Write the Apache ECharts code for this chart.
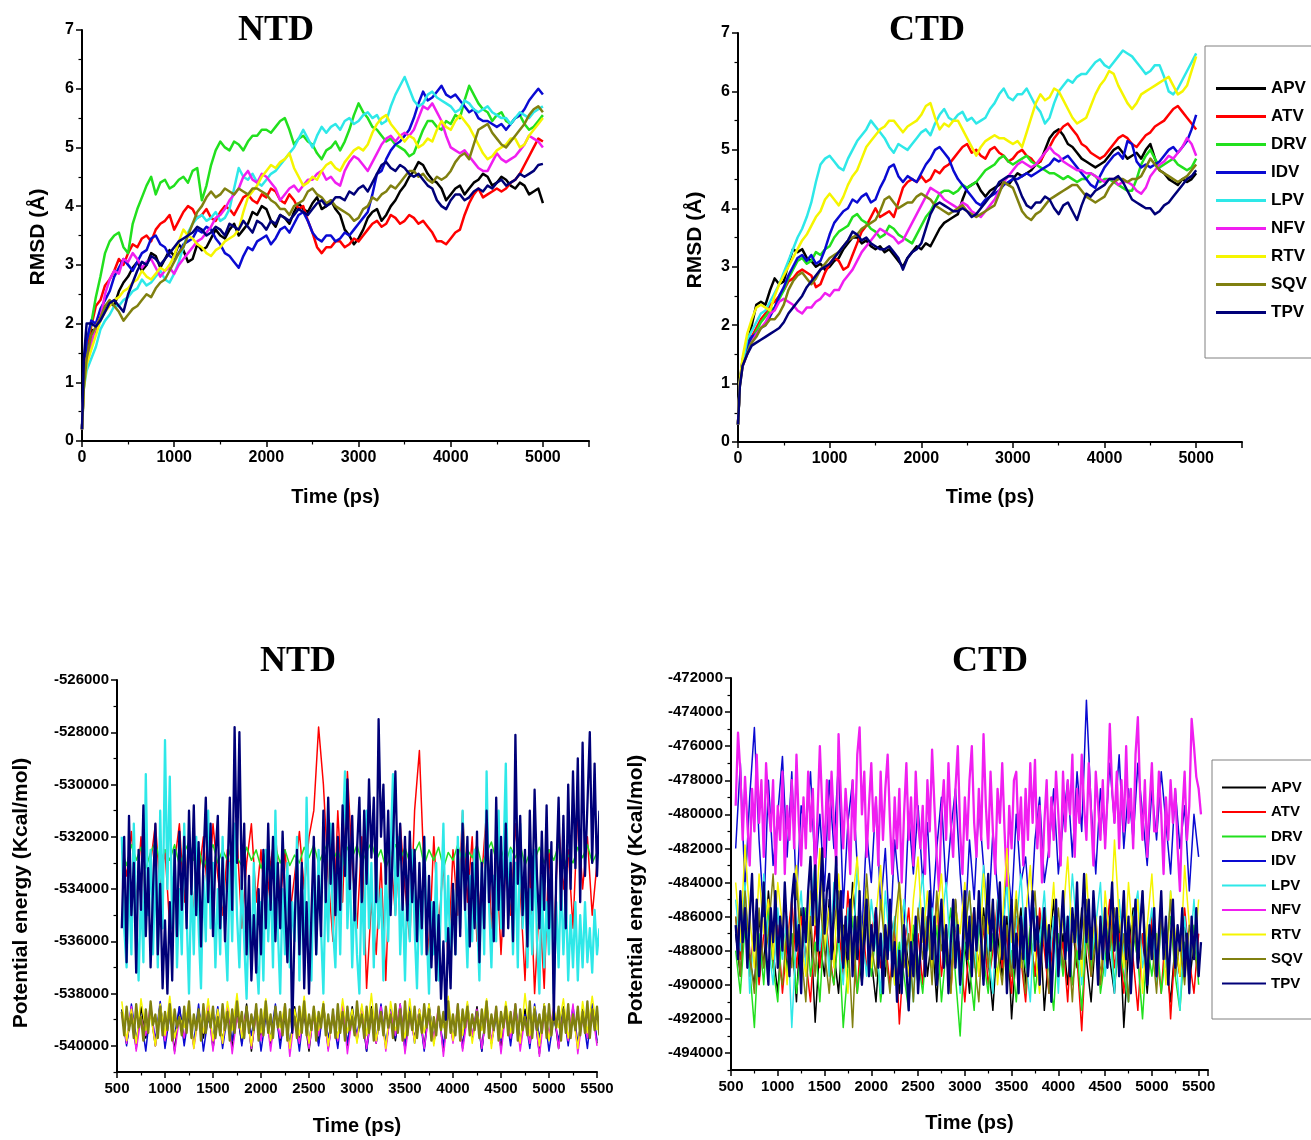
<!DOCTYPE html>
<html>
<head>
<meta charset="utf-8">
<title>RMSD and potential energy of NTD / CTD complexes</title>
<script src="https://cdn.jsdelivr.net/npm/echarts@6/dist/echarts.min.js"></script>
<style>
  html, body { margin: 0; padding: 0; background: #ffffff; }
  #chart { width: 1311px; height: 1140px; }
</style>
</head>
<body>
<div id="chart"></div>
<script>
// ---------- inhibitor names ----------
const drugs = ['APV', 'ATV', 'DRV', 'IDV', 'LPV', 'NFV', 'RTV', 'SQV', 'TPV'];

// ---------- energy-axis tick values (kcal/mol) ----------
const ntdEnergyTicks = [-540000, -538000, -536000, -534000, -532000, -530000, -528000, -526000];
const ntdEnergyMinorTicks = [-541000, -539000, -537000, -535000, -533000, -531000, -529000, -527000];
const ctdEnergyTicks = [-494000, -492000, -490000, -488000, -486000, -484000, -482000, -480000,
  -478000, -476000, -474000, -472000];
const ctdEnergyMinorTicks = [-495000, -493000, -491000, -489000, -487000, -485000, -483000, -481000,
  -479000, -477000, -475000, -473000];

// ---------- RMSD sample times (ps) ----------
const rmsdTime = [0, 20,
  50, 100, 150, 200, 250, 300, 350, 400, 450, 500,
  550, 600, 650, 700, 750, 800, 850, 900, 950, 1000,
  1050, 1100, 1150, 1200, 1250, 1300, 1350, 1400, 1450, 1500,
  1550, 1600, 1650, 1700, 1750, 1800, 1850, 1900, 1950, 2000,
  2050, 2100, 2150, 2200, 2250, 2300, 2350, 2400, 2450, 2500,
  2550, 2600, 2650, 2700, 2750, 2800, 2850, 2900, 2950, 3000,
  3050, 3100, 3150, 3200, 3250, 3300, 3350, 3400, 3450, 3500,
  3550, 3600, 3650, 3700, 3750, 3800, 3850, 3900, 3950, 4000,
  4050, 4100, 4150, 4200, 4250, 4300, 4350, 4400, 4450, 4500,
  4550, 4600, 4650, 4700, 4750, 4800, 4850, 4900, 4950, 5000];

// ---------- NTD RMSD (Å) ----------
const ntdRmsdAPV = [0.2, 1.0,
  1.5, 1.9, 1.85, 2.1, 2.3, 2.35, 2.3, 2.55, 2.7, 2.8,
  2.95, 3.05, 2.9, 3.0, 3.2, 3.15, 2.95, 3.1, 3.25, 3.15,
  3.35, 3.25, 3.05, 3.1, 3.35, 3.25, 3.3, 3.45, 3.6, 3.5,
  3.45, 3.6, 3.7, 3.5, 3.6, 3.7, 3.9, 3.85, 4.0, 3.95,
  3.75, 3.65, 3.85, 3.8, 3.7, 3.9, 4.05, 3.95, 3.9, 4.05,
  4.15, 3.95, 4.0, 4.1, 3.95, 3.85, 3.6, 3.5, 3.35, 3.45,
  3.6, 3.8, 3.9, 3.95, 3.75, 3.85, 4.0, 4.1, 4.25, 4.35,
  4.5, 4.6, 4.75, 4.7, 4.55, 4.45, 4.4, 4.3, 4.1, 4.2,
  4.3, 4.35, 4.2, 4.3, 4.4, 4.45, 4.55, 4.5, 4.35, 4.4,
  4.5, 4.45, 4.35, 4.3, 4.4, 4.35, 4.2, 4.25, 4.3, 4.05];
const ntdRmsdATV = [0.2, 1.0,
  1.6, 1.95, 2.3, 2.4, 2.65, 2.75, 2.9, 3.1, 3.0, 3.2,
  3.35, 3.3, 3.45, 3.5, 3.4, 3.6, 3.7, 3.75, 3.85, 3.6,
  3.75, 3.9, 4.0, 3.95, 3.8, 3.85, 3.95, 3.8, 3.75, 3.9,
  4.0, 3.95, 3.85, 4.0, 4.15, 4.2, 4.1, 4.05, 4.2, 4.15,
  4.3, 4.25, 4.1, 4.05, 4.2, 4.1, 3.95, 4.0, 3.75, 3.55,
  3.3, 3.2, 3.3, 3.3, 3.4, 3.4, 3.3, 3.35, 3.45, 3.4,
  3.5, 3.6, 3.7, 3.75, 3.65, 3.7, 3.85, 3.8, 3.7, 3.75,
  3.85, 3.8, 3.7, 3.75, 3.65, 3.55, 3.4, 3.4, 3.35, 3.45,
  3.55, 3.6, 3.85, 4.05, 4.2, 4.3, 4.15, 4.2, 4.25, 4.3,
  4.25, 4.3, 4.4, 4.45, 4.55, 4.7, 4.85, 5.0, 5.15, 5.1];
const ntdRmsdDRV = [0.2, 1.1,
  1.7, 2.0, 2.45, 2.8, 3.2, 3.4, 3.5, 3.55, 3.3, 3.2,
  3.7, 3.95, 4.15, 4.35, 4.5, 4.2, 4.4, 4.45, 4.3, 4.35,
  4.45, 4.5, 4.4, 4.6, 4.65, 4.1, 4.35, 4.7, 4.95, 5.1,
  5.0, 4.95, 5.1, 5.05, 4.95, 5.1, 5.2, 5.2, 5.3, 5.3,
  5.25, 5.35, 5.45, 5.5, 5.3, 5.05, 5.15, 5.2, 5.1, 5.05,
  4.9, 4.8, 4.95, 5.0, 5.1, 4.95, 5.1, 5.3, 5.55, 5.75,
  5.6, 5.5, 5.35, 5.3, 5.2, 5.1, 5.15, 5.05, 5.0, 4.95,
  4.85, 4.9, 5.1, 5.3, 5.45, 5.45, 5.35, 5.3, 5.45, 5.4,
  5.55, 5.5, 5.8, 6.05, 5.9, 5.75, 5.65, 5.6, 5.45, 5.55,
  5.6, 5.45, 5.4, 5.5, 5.55, 5.4, 5.3, 5.35, 5.45, 5.55];
const ntdRmsdIDV = [0.2, 1.1,
  1.7, 2.05, 2.0, 2.25, 2.4, 2.55, 2.8, 2.95, 3.1, 3.0,
  2.9, 3.05, 3.2, 3.25, 3.45, 3.5, 3.35, 3.3, 3.15, 3.1,
  3.2, 3.35, 3.4, 3.45, 3.6, 3.55, 3.65, 3.6, 3.45, 3.35,
  3.2, 3.15, 3.05, 2.95, 3.15, 3.3, 3.25, 3.4, 3.45, 3.5,
  3.35, 3.45, 3.6, 3.65, 3.55, 3.7, 3.85, 3.9, 3.75, 3.55,
  3.45, 3.4, 3.5, 3.5, 3.4, 3.45, 3.55, 3.5, 3.6, 3.7,
  3.8, 3.9, 4.2, 4.55, 4.6, 4.8, 4.95, 5.05, 5.1, 5.2,
  5.3, 5.5, 5.75, 5.95, 5.8, 5.85, 5.95, 6.05, 5.9, 5.85,
  5.9, 5.8, 5.7, 5.6, 5.65, 5.5, 5.45, 5.45, 5.4, 5.35,
  5.4, 5.3, 5.4, 5.5, 5.55, 5.65, 5.8, 5.9, 6.0, 5.9];
const ntdRmsdLPV = [0.2, 0.9,
  1.2, 1.4, 1.6, 1.9, 2.05, 2.15, 2.3, 2.3, 2.4, 2.45,
  2.55, 2.6, 2.75, 2.65, 2.7, 2.8, 2.9, 2.75, 2.7, 2.85,
  3.05, 3.3, 3.55, 3.7, 3.8, 3.85, 3.75, 3.8, 3.9, 3.75,
  3.8, 3.95, 4.3, 4.65, 4.5, 4.45, 4.55, 4.4, 4.35, 4.45,
  4.55, 4.6, 4.7, 4.8, 4.9, 5.0, 5.15, 5.3, 5.15, 5.0,
  5.2, 5.35, 5.25, 5.35, 5.4, 5.3, 5.45, 5.5, 5.4, 5.45,
  5.55, 5.6, 5.5, 5.55, 5.4, 5.45, 5.7, 5.9, 6.05, 6.2,
  6.0, 5.8, 5.7, 5.75, 5.9, 5.95, 5.85, 5.8, 5.75, 5.7,
  5.6, 5.65, 5.8, 5.75, 5.65, 5.6, 5.65, 5.7, 5.6, 5.55,
  5.5, 5.5, 5.4, 5.5, 5.6, 5.55, 5.5, 5.6, 5.65, 5.7];
const ntdRmsdNFV = [0.2, 1.0,
  1.4, 1.65, 1.95, 2.1, 2.5, 2.75, 2.9, 2.85, 3.1, 3.05,
  3.2, 3.1, 2.95, 3.05, 3.1, 2.95, 2.8, 2.9, 2.95, 2.85,
  3.0, 3.1, 3.2, 3.3, 3.4, 3.45, 3.55, 3.65, 3.8, 3.85,
  3.95, 4.1, 4.2, 4.3, 4.5, 4.6, 4.45, 4.4, 4.55, 4.5,
  4.4, 4.3, 4.1, 4.2, 4.3, 4.35, 4.25, 4.35, 4.45, 4.45,
  4.55, 4.6, 4.45, 4.5, 4.4, 4.35, 4.6, 4.75, 4.85, 4.8,
  4.7, 4.6, 4.75, 4.9, 5.05, 5.15, 5.2, 5.1, 5.2, 5.25,
  5.2, 5.3, 5.5, 5.7, 5.65, 5.75, 5.6, 5.45, 5.2, 5.0,
  4.95, 4.9, 4.95, 4.85, 4.75, 4.65, 4.6, 4.6, 4.75, 4.9,
  4.8, 4.75, 4.8, 4.85, 4.95, 5.05, 5.2, 5.15, 5.1, 5.0];
const ntdRmsdRTV = [0.2, 0.9,
  1.3, 1.55, 1.8, 2.05, 2.2, 2.3, 2.4, 2.45, 2.55, 2.6,
  2.7, 2.75, 2.9, 2.8, 2.75, 2.85, 2.95, 2.9, 3.0, 3.15,
  3.4, 3.6, 3.5, 3.45, 3.35, 3.3, 3.2, 3.15, 3.25, 3.3,
  3.4, 3.45, 3.5, 3.6, 3.9, 4.15, 4.25, 4.35, 4.5, 4.6,
  4.7, 4.65, 4.75, 4.8, 4.9, 4.65, 4.5, 4.35, 4.4, 4.5,
  4.45, 4.6, 4.7, 4.75, 4.65, 4.6, 4.75, 4.85, 4.95, 5.0,
  4.95, 5.05, 5.25, 5.4, 5.5, 5.55, 5.4, 5.3, 5.2, 5.1,
  5.2, 5.15, 5.0, 5.05, 5.15, 5.1, 5.3, 5.45, 5.35, 5.3,
  5.45, 5.55, 5.45, 5.35, 5.2, 5.05, 4.9, 4.8, 4.85, 4.95,
  5.0, 5.05, 5.15, 5.15, 5.0, 5.05, 5.2, 5.3, 5.4, 5.5];
const ntdRmsdSQV = [0.2, 0.9,
  1.4, 1.8, 1.95, 2.1, 2.3, 2.4, 2.3, 2.2, 2.05, 2.15,
  2.25, 2.3, 2.4, 2.5, 2.45, 2.6, 2.7, 2.75, 2.9, 3.05,
  3.2, 3.3, 3.5, 3.7, 3.9, 4.0, 4.15, 4.25, 4.15, 4.2,
  4.3, 4.25, 4.2, 4.3, 4.25, 4.2, 4.3, 4.3, 4.25, 4.2,
  4.1, 4.05, 3.95, 3.95, 3.85, 4.0, 4.05, 4.1, 4.25, 4.3,
  4.2, 4.15, 4.05, 4.1, 4.0, 3.95, 3.9, 3.85, 3.75, 3.8,
  3.95, 4.0, 4.15, 4.1, 4.2, 4.25, 4.35, 4.3, 4.4, 4.5,
  4.6, 4.6, 4.5, 4.55, 4.45, 4.4, 4.5, 4.45, 4.5, 4.6,
  4.75, 4.85, 4.9, 4.8, 5.05, 5.3, 5.35, 5.4, 5.25, 5.15,
  5.05, 5.0, 5.1, 5.2, 5.3, 5.4, 5.55, 5.65, 5.7, 5.6];
const ntdRmsdTPV = [0.2, 1.4,
  2.0, 2.0, 1.95, 2.05, 2.2, 2.35, 2.4, 2.3, 2.2, 2.5,
  2.7, 2.9, 3.05, 3.0, 3.15, 3.1, 3.0, 3.1, 3.2, 3.3,
  3.4, 3.45, 3.5, 3.55, 3.65, 3.6, 3.5, 3.55, 3.65, 3.6,
  3.5, 3.7, 3.65, 3.6, 3.75, 3.65, 3.55, 3.75, 3.7, 3.6,
  3.75, 3.7, 3.85, 3.8, 3.75, 3.85, 3.95, 3.9, 3.85, 3.95,
  4.05, 4.1, 4.0, 4.05, 4.15, 4.15, 4.1, 4.25, 4.2, 4.3,
  4.35, 4.25, 4.4, 4.55, 4.7, 4.75, 4.65, 4.6, 4.7, 4.65,
  4.55, 4.5, 4.55, 4.45, 4.35, 4.3, 4.1, 4.0, 3.95, 4.1,
  4.2, 4.2, 4.1, 4.15, 4.25, 4.3, 4.25, 4.35, 4.3, 4.4,
  4.45, 4.35, 4.4, 4.45, 4.55, 4.5, 4.55, 4.6, 4.7, 4.72];

// ---------- CTD RMSD (Å) ----------
const ctdRmsdAPV = [0.3, 1.0,
  1.4, 1.65, 2.0, 2.35, 2.4, 2.35, 2.6, 2.8, 2.7, 2.75,
  3.05, 3.3, 3.25, 3.3, 3.15, 3.1, 3.0, 3.05, 2.95, 3.0,
  3.1, 3.15, 3.3, 3.4, 3.5, 3.5, 3.4, 3.45, 3.35, 3.3,
  3.35, 3.25, 3.3, 3.2, 3.1, 3.0, 3.15, 3.25, 3.35, 3.3,
  3.4, 3.35, 3.5, 3.65, 3.75, 3.8, 3.85, 3.9, 4.15, 4.35,
  4.4, 4.45, 4.3, 4.2, 4.3, 4.35, 4.4, 4.45, 4.4, 4.5,
  4.6, 4.55, 4.6, 4.65, 4.75, 4.8, 5.0, 5.2, 5.3, 5.35,
  5.25, 5.1, 5.05, 4.95, 4.85, 4.8, 4.75, 4.7, 4.75, 4.8,
  4.9, 5.0, 5.05, 4.95, 4.85, 4.9, 4.95, 4.85, 5.0, 5.1,
  4.85, 4.65, 4.6, 4.5, 4.45, 4.4, 4.5, 4.45, 4.5, 4.6];
const ctdRmsdATV = [0.3, 1.0,
  1.35, 1.55, 1.8, 1.95, 2.1, 2.2, 2.35, 2.4, 2.5, 2.6,
  2.75, 2.8, 2.9, 2.95, 2.9, 2.85, 2.65, 2.7, 2.9, 3.05,
  3.15, 3.1, 2.95, 3.0, 3.2, 3.4, 3.6, 3.7, 3.85, 4.0,
  3.85, 3.9, 3.95, 3.85, 4.1, 4.35, 4.45, 4.5, 4.45, 4.55,
  4.45, 4.5, 4.65, 4.6, 4.7, 4.75, 4.85, 4.95, 5.05, 5.1,
  4.95, 5.0, 4.9, 4.85, 5.0, 5.05, 4.95, 4.9, 4.8, 4.85,
  4.95, 5.0, 4.9, 4.85, 4.75, 4.8, 4.95, 5.05, 5.2, 5.3,
  5.4, 5.45, 5.35, 5.25, 5.1, 5.05, 4.95, 4.9, 4.85, 4.9,
  5.0, 5.1, 5.2, 5.25, 5.2, 5.1, 5.05, 5.15, 5.25, 5.3,
  5.4, 5.45, 5.5, 5.6, 5.7, 5.75, 5.65, 5.55, 5.45, 5.35];
const ctdRmsdDRV = [0.3, 1.0,
  1.35, 1.55, 1.75, 1.9, 2.05, 2.15, 2.25, 2.3, 2.45, 2.6,
  2.8, 2.95, 3.1, 3.15, 3.05, 3.1, 3.25, 3.2, 3.3, 3.35,
  3.5, 3.6, 3.65, 3.7, 3.85, 3.9, 3.8, 3.75, 3.65, 3.6,
  3.5, 3.55, 3.7, 3.65, 3.55, 3.5, 3.45, 3.4, 3.55, 3.7,
  3.85, 3.95, 4.1, 4.25, 4.3, 4.3, 4.25, 4.3, 4.4, 4.35,
  4.4, 4.45, 4.55, 4.65, 4.7, 4.75, 4.85, 4.9, 4.8, 4.75,
  4.8, 4.85, 4.9, 4.8, 4.75, 4.7, 4.65, 4.6, 4.6, 4.55,
  4.5, 4.55, 4.5, 4.45, 4.5, 4.5, 4.6, 4.55, 4.45, 4.5,
  4.5, 4.45, 4.4, 4.35, 4.3, 4.3, 4.5, 4.75, 4.9, 5.0,
  4.85, 4.7, 4.75, 4.8, 4.85, 4.75, 4.7, 4.65, 4.7, 4.85];
const ctdRmsdIDV = [0.3, 1.05,
  1.4, 1.65, 1.8, 1.85, 1.95, 2.0, 2.15, 2.3, 2.5, 2.65,
  2.85, 3.0, 3.15, 3.2, 3.1, 3.2, 3.05, 3.1, 3.3, 3.55,
  3.75, 3.85, 3.95, 4.0, 4.15, 4.1, 4.2, 4.25, 4.1, 4.15,
  4.35, 4.5, 4.7, 4.75, 4.55, 4.45, 4.55, 4.5, 4.45, 4.6,
  4.75, 4.85, 5.0, 5.05, 4.95, 4.85, 4.65, 4.5, 4.4, 4.3,
  4.2, 4.1, 4.05, 4.15, 4.2, 4.25, 4.3, 4.4, 4.45, 4.5,
  4.5, 4.55, 4.6, 4.55, 4.6, 4.65, 4.7, 4.75, 4.85, 4.8,
  4.85, 4.9, 4.8, 4.7, 4.6, 4.5, 4.4, 4.35, 4.55, 4.7,
  4.8, 4.9, 4.95, 4.85, 5.15, 5.1, 4.8, 4.7, 4.75, 4.7,
  4.75, 4.8, 4.9, 5.0, 5.05, 4.95, 5.05, 5.15, 5.35, 5.6];
const ctdRmsdLPV = [0.3, 1.0,
  1.35, 1.75, 1.9, 2.05, 2.2, 2.25, 2.4, 2.55, 2.7, 2.9,
  3.1, 3.3, 3.5, 3.65, 3.85, 4.1, 4.45, 4.75, 4.85, 4.9,
  4.8, 4.7, 4.65, 4.85, 5.0, 5.15, 5.25, 5.35, 5.5, 5.4,
  5.3, 5.2, 5.05, 4.95, 5.1, 5.05, 5.0, 5.1, 5.2, 5.3,
  5.35, 5.25, 5.45, 5.6, 5.7, 5.55, 5.5, 5.6, 5.65, 5.5,
  5.55, 5.45, 5.5, 5.55, 5.7, 5.8, 5.95, 6.05, 5.9, 5.85,
  5.95, 5.95, 6.05, 5.9, 5.75, 5.65, 5.45, 5.55, 5.8, 6.0,
  6.1, 6.2, 6.15, 6.25, 6.3, 6.3, 6.4, 6.5, 6.55, 6.45,
  6.4, 6.5, 6.6, 6.7, 6.65, 6.6, 6.5, 6.4, 6.3, 6.35,
  6.45, 6.45, 6.25, 6.0, 5.95, 6.05, 6.2, 6.35, 6.5, 6.65];
const ctdRmsdNFV = [0.3, 1.0,
  1.3, 1.5, 1.7, 1.85, 1.95, 2.05, 2.2, 2.25, 2.4, 2.45,
  2.4, 2.35, 2.25, 2.2, 2.3, 2.3, 2.4, 2.45, 2.55, 2.5,
  2.6, 2.6, 2.75, 2.85, 2.95, 3.1, 3.25, 3.35, 3.45, 3.55,
  3.65, 3.6, 3.55, 3.5, 3.4, 3.45, 3.6, 3.75, 3.9, 4.05,
  4.2, 4.35, 4.3, 4.25, 4.15, 4.1, 4.05, 4.0, 4.1, 4.05,
  3.95, 3.9, 3.85, 3.95, 4.05, 4.15, 4.3, 4.45, 4.55, 4.65,
  4.75, 4.8, 4.75, 4.7, 4.75, 4.85, 4.95, 5.05, 4.95, 4.9,
  4.8, 4.75, 4.7, 4.65, 4.65, 4.6, 4.6, 4.55, 4.5, 4.45,
  4.5, 4.5, 4.4, 4.45, 4.45, 4.4, 4.3, 4.25, 4.35, 4.55,
  4.65, 4.75, 4.8, 4.9, 4.85, 4.95, 5.05, 5.2, 5.1, 4.9];
const ctdRmsdRTV = [0.3, 1.05,
  1.45, 1.85, 2.1, 2.3, 2.35, 2.3, 2.25, 2.5, 2.7, 2.85,
  3.0, 3.15, 3.3, 3.45, 3.55, 3.7, 3.85, 3.95, 4.15, 4.25,
  4.15, 4.05, 4.2, 4.4, 4.55, 4.65, 4.85, 5.05, 5.15, 5.25,
  5.35, 5.4, 5.5, 5.5, 5.4, 5.3, 5.4, 5.45, 5.5, 5.6,
  5.75, 5.8, 5.55, 5.35, 5.45, 5.4, 5.5, 5.5, 5.35, 5.2,
  5.05, 4.9, 5.05, 5.15, 5.2, 5.25, 5.2, 5.2, 5.15, 5.1,
  5.15, 5.05, 5.3, 5.55, 5.8, 5.95, 5.85, 5.9, 6.05, 6.0,
  5.85, 5.7, 5.55, 5.45, 5.5, 5.55, 5.75, 5.95, 6.1, 6.2,
  6.35, 6.3, 6.1, 5.95, 5.8, 5.7, 5.8, 5.95, 6.0, 6.05,
  6.1, 6.15, 6.2, 6.25, 6.1, 5.95, 6.0, 6.1, 6.35, 6.6];
const ctdRmsdSQV = [0.3, 0.95,
  1.3, 1.5, 1.7, 1.8, 1.95, 2.0, 2.1, 2.1, 2.2, 2.35,
  2.6, 2.75, 2.85, 2.9, 2.8, 2.7, 2.8, 2.95, 3.05, 3.15,
  3.2, 3.25, 3.35, 3.45, 3.5, 3.55, 3.65, 3.7, 3.75, 3.8,
  3.95, 4.15, 4.2, 4.1, 4.0, 4.05, 4.1, 4.1, 4.2, 4.25,
  4.2, 4.15, 4.05, 4.0, 3.95, 3.9, 3.95, 4.0, 4.05, 3.95,
  3.9, 3.85, 3.9, 3.95, 4.0, 4.05, 4.25, 4.45, 4.4, 4.35,
  4.15, 3.95, 3.85, 3.8, 3.9, 3.95, 4.05, 4.15, 4.2, 4.25,
  4.3, 4.35, 4.4, 4.4, 4.3, 4.2, 4.15, 4.1, 4.15, 4.2,
  4.35, 4.45, 4.5, 4.5, 4.45, 4.5, 4.5, 4.55, 4.7, 4.85,
  4.75, 4.65, 4.6, 4.55, 4.5, 4.45, 4.5, 4.55, 4.65, 4.75];
const ctdRmsdTPV = [0.3, 0.95,
  1.3, 1.5, 1.65, 1.7, 1.75, 1.8, 1.85, 1.9, 1.95, 2.05,
  2.2, 2.3, 2.4, 2.5, 2.65, 2.75, 2.85, 2.95, 3.0, 3.05,
  3.15, 3.25, 3.35, 3.45, 3.6, 3.55, 3.45, 3.5, 3.4, 3.35,
  3.3, 3.3, 3.35, 3.25, 3.15, 2.95, 3.15, 3.25, 3.3, 3.4,
  3.65, 3.9, 4.05, 4.1, 4.05, 4.0, 3.95, 3.95, 4.0, 3.95,
  3.85, 3.9, 4.0, 4.1, 4.2, 4.3, 4.45, 4.5, 4.55, 4.55,
  4.4, 4.2, 4.05, 4.0, 4.1, 4.1, 4.2, 4.15, 4.0, 3.9,
  4.05, 4.1, 3.95, 3.8, 4.05, 4.25, 4.2, 4.3, 4.35, 4.4,
  4.5, 4.5, 4.55, 4.45, 4.3, 4.15, 4.1, 4.05, 4.0, 4.0,
  3.9, 3.95, 4.05, 4.1, 4.2, 4.3, 4.4, 4.5, 4.55, 4.65];

// ---------- potential energy sample times (ps) ----------
// every 50 ps
const energyTime = [
  550, 600, 650, 700, 750, 800, 850, 900, 950, 1000,
  1050, 1100, 1150, 1200, 1250, 1300, 1350, 1400, 1450, 1500,
  1550, 1600, 1650, 1700, 1750, 1800, 1850, 1900, 1950, 2000,
  2050, 2100, 2150, 2200, 2250, 2300, 2350, 2400, 2450, 2500,
  2550, 2600, 2650, 2700, 2750, 2800, 2850, 2900, 2950, 3000,
  3050, 3100, 3150, 3200, 3250, 3300, 3350, 3400, 3450, 3500,
  3550, 3600, 3650, 3700, 3750, 3800, 3850, 3900, 3950, 4000,
  4050, 4100, 4150, 4200, 4250, 4300, 4350, 4400, 4450, 4500,
  4550, 4600, 4650, 4700, 4750, 4800, 4850, 4900, 4950, 5000,
  5050, 5100, 5150, 5200, 5250, 5300, 5350, 5400, 5450, 5500];
// every 25 ps
const energyTimeFine = [
  550, 575, 600, 625, 650, 675, 700, 725, 750, 775,
  800, 825, 850, 875, 900, 925, 950, 975, 1000, 1025,
  1050, 1075, 1100, 1125, 1150, 1175, 1200, 1225, 1250, 1275,
  1300, 1325, 1350, 1375, 1400, 1425, 1450, 1475, 1500, 1525,
  1550, 1575, 1600, 1625, 1650, 1675, 1700, 1725, 1750, 1775,
  1800, 1825, 1850, 1875, 1900, 1925, 1950, 1975, 2000, 2025,
  2050, 2075, 2100, 2125, 2150, 2175, 2200, 2225, 2250, 2275,
  2300, 2325, 2350, 2375, 2400, 2425, 2450, 2475, 2500, 2525,
  2550, 2575, 2600, 2625, 2650, 2675, 2700, 2725, 2750, 2775,
  2800, 2825, 2850, 2875, 2900, 2925, 2950, 2975, 3000, 3025,
  3050, 3075, 3100, 3125, 3150, 3175, 3200, 3225, 3250, 3275,
  3300, 3325, 3350, 3375, 3400, 3425, 3450, 3475, 3500, 3525,
  3550, 3575, 3600, 3625, 3650, 3675, 3700, 3725, 3750, 3775,
  3800, 3825, 3850, 3875, 3900, 3925, 3950, 3975, 4000, 4025,
  4050, 4075, 4100, 4125, 4150, 4175, 4200, 4225, 4250, 4275,
  4300, 4325, 4350, 4375, 4400, 4425, 4450, 4475, 4500, 4525,
  4550, 4575, 4600, 4625, 4650, 4675, 4700, 4725, 4750, 4775,
  4800, 4825, 4850, 4875, 4900, 4925, 4950, 4975, 5000, 5025,
  5050, 5075, 5100, 5125, 5150, 5175, 5200, 5225, 5250, 5275,
  5300, 5325, 5350, 5375, 5400, 5425, 5450, 5475, 5500, 5525];

// ---------- NTD potential energy (kcal/mol) ----------
const ntdEnergyAPV = [
  -538600, -539900, -538800, -540100, -538500, -539700, -538700, -540000, -538400, -539800,
  -538700, -540200, -538500, -539800, -538800, -540000, -538600, -539700, -538400, -540100,
  -538800, -539800, -538500, -540100, -538700, -539900, -538400, -540200, -538600, -539700,
  -538500, -540000, -538700, -539800, -538900, -540100, -538500, -539700, -538800, -540200,
  -538600, -539900, -538400, -540100, -538800, -539700, -538600, -540000, -538500, -539800,
  -538700, -540200, -538500, -539900, -538600, -540000, -538800, -539800, -538400, -540100,
  -538800, -539700, -538600, -540100, -538400, -539900, -538700, -540200, -538500, -539800,
  -538600, -540000, -538800, -539700, -538500, -540200, -538400, -539900, -538700, -540100,
  -538500, -539800, -538700, -540000, -538600, -539900, -538800, -540300, -538400, -539700,
  -538700, -540100, -538500, -539800, -538800, -540000, -538600, -539700, -538400, -539900];
const ntdEnergyATV = [
  -532500, -533500, -531800, -534500, -532000, -535000, -533000, -531500, -534000, -532500,
  -535500, -533000, -531500, -534500, -532000, -535000, -533500, -532000, -534500, -531500,
  -533500, -535000, -532500, -534000, -532000, -535500, -533000, -531500, -534500, -532500,
  -535000, -533000, -531800, -534500, -532500, -535000, -533500, -531800, -534000, -532000,
  -531000, -527800, -530000, -533500, -536000, -531000, -534500, -529500, -533000, -535500,
  -532000, -537800, -534500, -536500, -533000, -537500, -532500, -535000, -531500, -534000,
  -536000, -531000, -528700, -533500, -536500, -532000, -535500, -533000, -536800, -532500,
  -535000, -531000, -534500, -532000, -536000, -533500, -531000, -535500, -532500, -536500,
  -533000, -535000, -531500, -534000, -537500, -533000, -538000, -534500, -537800, -532500,
  -536000, -531500, -534000, -532500, -535500, -531000, -534000, -532000, -535000, -533000];
const ntdEnergyDRV = [
  -532500, -533100, -532300, -532900, -532400, -533200, -532600, -532200, -533000, -532500,
  -532900, -532300, -533100, -532600, -532200, -532900, -532400, -533200, -532700, -532300,
  -533000, -532500, -532900, -532200, -532800, -533100, -532400, -532900, -532500, -533200,
  -532600, -533300, -532400, -533000, -532500, -533100, -532700, -533000, -532400, -532800,
  -532300, -533000, -532600, -532200, -532900, -532500, -533100, -532400, -532800, -532300,
  -533000, -532600, -532200, -532900, -532500, -533200, -532700, -532300, -532900, -532400,
  -533000, -532600, -532200, -533100, -532500, -532900, -532400, -533200, -532600, -532900,
  -532300, -533000, -532500, -532800, -532300, -533100, -532600, -532200, -532900, -532500,
  -533000, -532400, -532800, -532300, -533100, -532600, -532900, -532400, -533000, -532500,
  -532900, -532300, -533200, -532700, -533000, -532400, -532800, -532300, -533000, -532600];
const ntdEnergyIDV = [
  -538700, -540000, -538400, -539700, -538900, -540200, -538500, -539800, -538300, -540100,
  -538800, -539600, -538500, -540000, -538700, -539900, -538400, -540200, -538900, -539700,
  -538500, -540100, -538800, -539800, -538400, -540000, -538700, -539600, -538500, -540200,
  -538900, -539700, -538400, -540100, -538600, -539900, -538800, -540200, -538500, -539800,
  -538700, -540000, -538500, -539700, -538900, -540100, -538400, -539900, -538700, -539600,
  -538500, -540200, -538800, -539800, -538400, -540000, -538600, -539700, -538900, -540100,
  -538400, -539900, -538700, -540200, -538500, -539800, -538800, -540000, -538600, -539700,
  -538800, -540100, -538400, -539700, -538700, -540200, -538500, -539900, -538900, -539800,
  -538600, -540000, -538500, -539800, -538800, -540100, -538400, -539700, -538700, -540200,
  -538900, -539800, -538600, -540000, -538500, -539900, -538700, -540100, -538400, -539800];
const ntdEnergyLPV = [
  -532000, -535500, -537000, -533500, -536500, -531500, -535000, -537500, -534000, -536800,
  -529600, -535000, -532500, -536500, -533000, -537000, -531000, -535500, -528300, -534000,
  -529700, -535500, -532500, -537000, -534000, -536500, -531500, -535000, -538000, -533500,
  -536500, -532000, -535500, -537800, -533500, -536000, -531000, -535500, -533000, -537000,
  -534000, -536500, -532000, -535500, -537500, -533000, -536000, -531500, -535000, -537000,
  -533500, -536000, -538200, -534500, -537000, -533000, -536500, -538000, -534500, -537500,
  -532500, -536000, -533500, -537000, -531000, -535500, -538000, -534000, -536500, -533000,
  -537000, -534500, -536000, -532000, -537500, -533500, -536500, -530500, -535000, -537500,
  -533000, -536500, -532500, -535500, -538000, -533500, -536000, -531500, -535500, -537000,
  -533000, -536500, -532000, -529500, -535500, -533000, -537000, -534000, -536500, -538000,
  -533500, -536500, -531000, -535500, -533000, -537000, -532500, -535500, -534000, -537500,
  -533000, -536000, -532500, -529600, -535000, -532000, -536500, -534000, -537500, -533500,
  -536000, -532500, -535500, -537800, -534000, -536500, -532000, -535500, -538000, -534500,
  -536500, -533000, -537500, -534500, -531500, -536000, -533500, -537000, -534000, -536500,
  -532000, -535500, -531000, -534500, -537000, -533500, -536000, -532500, -535000, -537500,
  -533000, -536500, -529500, -534500, -537000, -533500, -536000, -531000, -535500, -533000,
  -529200, -535000, -532500, -536500, -533000, -537000, -531500, -535500, -533500, -537000,
  -534000, -536500, -532500, -536000, -538000, -533500, -537000, -534500, -536500, -533000,
  -538000, -534500, -537000, -533500, -536500, -534000, -537500, -535000, -537000, -534500,
  -537500, -535000, -537000, -534500, -536800, -535500, -537200, -534800, -536500, -535500];
const ntdEnergyNFV = [
  -538800, -539900, -538500, -540200, -538900, -539600, -538400, -540000, -538700, -539800,
  -538600, -540300, -538900, -539700, -538500, -540100, -538800, -539500, -538400, -540200,
  -538700, -539900, -538500, -540300, -538900, -539600, -538600, -540100, -538800, -539800,
  -538500, -540200, -538700, -539700, -538400, -540400, -538900, -539900, -538600, -540100,
  -538800, -539600, -538500, -540200, -538700, -539800, -538400, -540300, -538900, -539700,
  -538600, -540100, -538800, -539900, -538500, -540200, -538700, -539600, -538400, -540300,
  -538900, -539800, -538600, -540100, -538800, -539700, -538500, -540400, -538700, -539900,
  -538400, -540200, -538900, -539600, -538600, -540100, -538800, -539800, -538500, -540300,
  -538700, -539700, -538400, -540200, -538900, -539900, -538600, -540400, -538800, -539600,
  -538500, -540100, -538700, -539800, -538400, -540300, -538900, -539700, -538600, -540000];
const ntdEnergyRTV = [
  -538300, -539800, -538600, -539900, -538200, -539400, -538800, -540000, -538400, -539600,
  -538100, -539700, -538900, -539300, -538300, -540100, -538700, -539500, -538200, -539800,
  -538600, -539900, -538300, -539400, -538000, -539700, -538800, -540000, -538500, -539500,
  -538200, -539800, -538700, -539300, -538400, -540100, -538600, -539600, -538100, -539900,
  -538500, -539400, -538300, -540000, -538800, -539700, -538200, -539500, -538600, -539900,
  -538400, -539600, -538000, -539800, -538700, -540100, -538300, -539400, -538900, -539700,
  -538200, -539900, -538600, -539500, -538400, -540000, -538700, -539300, -538100, -539800,
  -538500, -539600, -538300, -539900, -538800, -539400, -538200, -540100, -538600, -539700,
  -538300, -539500, -538700, -539900, -538000, -539600, -538500, -540000, -538400, -539800,
  -538600, -539300, -538200, -539700, -538800, -540100, -538300, -539500, -538100, -539400];
const ntdEnergySQV = [
  -538700, -539600, -538500, -539400, -538800, -539700, -538400, -539300, -538900, -539800,
  -538600, -539500, -538300, -539200, -538800, -539700, -538500, -539600, -538700, -539400,
  -538400, -539800, -538600, -539300, -538900, -539600, -538500, -539500, -538300, -539700,
  -538800, -539400, -538600, -539800, -538400, -539500, -538700, -539300, -538500, -539700,
  -538900, -539600, -538400, -539400, -538700, -539800, -538600, -539500, -538300, -539300,
  -538700, -539700, -538500, -539500, -538800, -539400, -538400, -539800, -538600, -539600,
  -538300, -539500, -538800, -539700, -538500, -539300, -538700, -539600, -538400, -539800,
  -538600, -539400, -538900, -539700, -538500, -539500, -538300, -539600, -538800, -539400,
  -538500, -539800, -538700, -539300, -538400, -539600, -538800, -539500, -538600, -539700,
  -538400, -539500, -538700, -539800, -538500, -539400, -538900, -539600, -538300, -539300,
  -538800, -539700, -538500, -539500, -538600, -539800, -538400, -539400, -538700, -539600,
  -538500, -539300, -538800, -539700, -538400, -539500, -538600, -539800, -538300, -539600,
  -538700, -539400, -538500, -539700, -538800, -539500, -538400, -539300, -538600, -539800,
  -538900, -539600, -538500, -539400, -538700, -539700, -538300, -539500, -538800, -539600,
  -538400, -539800, -538600, -539300, -538500, -539600, -538800, -539400, -538700, -539700,
  -538600, -539500, -538300, -539700, -538800, -539400, -538500, -539800, -538700, -539300,
  -538500, -539600, -538700, -539500, -538400, -539800, -538600, -539400, -538900, -539600,
  -538300, -539700, -538600, -539400, -538800, -539500, -538500, -539700, -538400, -539600,
  -538700, -539300, -538500, -539800, -538600, -539500, -538400, -539700, -538800, -539400,
  -538500, -539600, -538700, -539500, -538300, -539700, -538600, -539400, -538500, -539600];
const ntdEnergyTPV = [
  -535500, -532000, -536800, -531200, -535000, -533000, -537200, -532500, -534800, -530800,
  -535800, -533200, -537000, -534000, -531500, -536500, -533800, -537800, -535200, -538000,
  -534500, -537500, -532500, -535800, -531800, -534800, -532000, -535500, -531000, -534200,
  -530800, -535000, -532200, -536200, -533000, -530500, -534500, -531500, -535800, -532800,
  -531200, -535500, -532800, -536000, -533500, -530500, -534800, -527800, -533000, -528000,
  -534000, -531500, -536500, -533500, -537500, -535000, -537200, -534000, -536500, -532500,
  -535500, -531500, -534800, -532000, -536000, -533000, -535500, -531800, -534500, -536800,
  -533500, -539500, -535500, -532500, -536500, -533000, -537800, -534500, -538000, -535000,
  -532000, -536500, -533500, -535800, -531000, -534500, -530500, -533800, -531500, -535000,
  -532000, -534800, -530800, -533500, -529800, -534000, -531200, -535200, -532500, -530500,
  -534500, -531000, -533800, -529800, -532800, -530500, -534500, -527500, -532000, -530000,
  -533800, -531000, -535000, -532200, -529500, -533500, -531500, -534800, -532000, -535200,
  -531800, -534500, -532500, -536000, -533000, -535500, -532000, -536500, -533500, -537000,
  -534500, -537500, -535000, -538200, -536000, -539000, -535500, -537800, -533800, -536500,
  -532500, -535800, -531500, -534800, -532000, -536200, -533000, -535500, -531800, -536800,
  -533000, -535500, -531000, -534500, -532500, -536000, -530500, -534800, -532000, -535800,
  -531500, -535500, -533000, -536000, -528100, -533800, -531200, -535000, -532500, -536200,
  -531000, -534800, -530200, -533500, -535500, -531800, -534800, -530800, -535500, -532200,
  -539000, -533500, -530500, -534800, -531200, -535500, -530000, -534000, -529500, -533200,
  -529000, -534500, -528400, -533500, -530800, -528000, -533000, -529200, -533500, -531000];

// ---------- CTD potential energy (kcal/mol) ----------
const ctdEnergyAPV = [
  -487000, -489500, -485500, -488500, -490000, -486000, -489000, -484500, -488000, -490500,
  -486500, -489000, -487000, -491000, -485500, -488500, -486500, -492200, -487500, -489500,
  -485000, -488000, -490500, -486500, -489000, -484000, -487500, -490000, -486000, -488500,
  -491000, -487000, -489500, -485500, -488000, -490500, -486500, -489000, -487000, -490000,
  -485500, -489500, -487000, -491000, -486000, -488500, -490000, -485000, -489000, -487500,
  -490500, -486500, -489000, -485500, -488500, -491500, -487000, -489500, -486000, -492000,
  -488000, -485500, -490000, -487000, -489500, -486000, -491500, -488000, -485000, -489500,
  -487000, -490000, -486500, -489000, -485500, -488500, -491000, -487000, -489500, -486000,
  -488500, -490500, -486000, -492500, -488000, -485500, -489000, -487000, -490500, -486500,
  -489000, -486000, -488500, -491000, -487500, -489500, -486000, -490000, -487500, -489000];
const ctdEnergyATV = [
  -486000, -488500, -484500, -489500, -486500, -490000, -487000, -485000, -489000, -486500,
  -490500, -487500, -485000, -489000, -486000, -488500, -491000, -486500, -489000, -485500,
  -488000, -490000, -486500, -489500, -484500, -488000, -490500, -486000, -489000, -487000,
  -485500, -489000, -487500, -490000, -486500, -492300, -488000, -485500, -489500, -487000,
  -490000, -486000, -488500, -485000, -489500, -487000, -490500, -486500, -488000, -491000,
  -487500, -485500, -489500, -486500, -490000, -488000, -485000, -489000, -487000, -490500,
  -486000, -488500, -491000, -487000, -489500, -485500, -488000, -490500, -486500, -489000,
  -487500, -491000, -486000, -488500, -492700, -487000, -489500, -486000, -490000, -487500,
  -485000, -489000, -487000, -490500, -486500, -488500, -491500, -487000, -489500, -486000,
  -488000, -490500, -486500, -492000, -487500, -489500, -485500, -488500, -490500, -487000];
const ctdEnergyDRV = [
  -488000, -490500, -486500, -489000, -492500, -487000, -490000, -485500, -489000, -491000,
  -486500, -489500, -487000, -490500, -488000, -485500, -489500, -487500, -491000, -486000,
  -488500, -490000, -487000, -492500, -489000, -486000, -490500, -488000, -485500, -489500,
  -487000, -491000, -488500, -486000, -490000, -487500, -489500, -491500, -486500, -488500,
  -490500, -487000, -489000, -486500, -491000, -488000, -485500, -489500, -493000, -487500,
  -489000, -491500, -486500, -488500, -490500, -487000, -489500, -486000, -490000, -488000,
  -491000, -487500, -489000, -486500, -490500, -488000, -485500, -489000, -491500, -487000,
  -489500, -486500, -490000, -488000, -491500, -487000, -489000, -486500, -490500, -488500,
  -486000, -490000, -487500, -489500, -491000, -487000, -488500, -492000, -487500, -489500,
  -487000, -490500, -488000, -486000, -489500, -491500, -487500, -489000, -486500, -490000];
const ctdEnergyIDV = [
  -482000, -477000, -484500, -479000, -474900, -481500, -486000, -478000, -483000, -480000,
  -476600, -482500, -477500, -485000, -479500, -481000, -477500, -483500, -480000, -484500,
  -478000, -482000, -476800, -485500, -480500, -478000, -483000, -487000, -481000, -484000,
  -479000, -485500, -482000, -487500, -481500, -484500, -486500, -480000, -483500, -479500,
  -484000, -480500, -486000, -482000, -479000, -484500, -481000, -478500, -483500, -487000,
  -481500, -485000, -479500, -483000, -486500, -481000, -484500, -488000, -482500, -485500,
  -480000, -484000, -482500, -486500, -481500, -479000, -484000, -482000, -478500, -483500,
  -480500, -478000, -482500, -477500, -481000, -473300, -479500, -483500, -478500, -481500,
  -477000, -480500, -476500, -482000, -478500, -481500, -477000, -480000, -483000, -478500,
  -481500, -477500, -480500, -483500, -478500, -482000, -479500, -484500, -480000, -482500];
const ctdEnergyLPV = [
  -485000, -488000, -484000, -490500, -486500, -489000, -483500, -487500, -490000, -485500,
  -488500, -486000, -492500, -487000, -484500, -489000, -486000, -482500, -488000, -485000,
  -489500, -484000, -487500, -490000, -485500, -488500, -483000, -487000, -489500, -485000,
  -487500, -490500, -484500, -488000, -486000, -489500, -485000, -487500, -491000, -486000,
  -483500, -488000, -485500, -490000, -486500, -484000, -488500, -486000, -490500, -487000,
  -484500, -489000, -486500, -483000, -488000, -490500, -485000, -487500, -484000, -489000,
  -486500, -483500, -488500, -491000, -485500, -487500, -484500, -489000, -486000, -490500,
  -485000, -488000, -483500, -487000, -490000, -485500, -488500, -486500, -484000, -489500,
  -487000, -490500, -485000, -488000, -491000, -486000, -484500, -489000, -487500, -485500,
  -490000, -486500, -489000, -484500, -488000, -491500, -486000, -488500, -485000, -489500];
const ctdEnergyNFV = [
  -479500, -475200, -477500, -481500, -477800, -480500, -483000, -478500, -481000, -476500,
  -480500, -478000, -482500, -477000, -479500, -481000, -478000, -483500, -479500, -481500,
  -477500, -483500, -479500, -481500, -478000, -482000, -476500, -480500, -483000, -479000,
  -482000, -477500, -481000, -478500, -483800, -480000, -476000, -479500, -482500, -478000,
  -481500, -477500, -480500, -483000, -475300, -479000, -482000, -478500, -480500, -483500,
  -478000, -481500, -476500, -474900, -480000, -477500, -482500, -479500, -477000, -481000,
  -479000, -483000, -477500, -481500, -478500, -476500, -480500, -483500, -479000, -482000,
  -478500, -484000, -480000, -477000, -481500, -479000, -483000, -477500, -480500, -482000,
  -479500, -483500, -478000, -481000, -476200, -479500, -482500, -484500, -480000, -478000,
  -481500, -477000, -480500, -482500, -478500, -476000, -481000, -483500, -479000, -481500,
  -478000, -476000, -480500, -482500, -478500, -481500, -475300, -479500, -482000, -477500,
  -481000, -483500, -478500, -480500, -477000, -481000, -484200, -479500, -482000, -478000,
  -477500, -481500, -479000, -483000, -478500, -481500, -477000, -480500, -476800, -482000,
  -479500, -484000, -480500, -478000, -482500, -479000, -481500, -477500, -480000, -483000,
  -477500, -481000, -478000, -480000, -476500, -482500, -478500, -480500, -476500, -479500,
  -481500, -477000, -480000, -483000, -477500, -479500, -481500, -478000, -482000, -479000,
  -474700, -478500, -480500, -477500, -482000, -478000, -481000, -476000, -480500, -478500,
  -482000, -476500, -474300, -479000, -481500, -478000, -482500, -479500, -477000, -481000,
  -481000, -477500, -480000, -483500, -479000, -481500, -478000, -480500, -478500, -482000,
  -484500, -480000, -477500, -481500, -479500, -474400, -476000, -477800, -478500, -480000];
const ctdEnergyRTV = [
  -484000, -487500, -481800, -486000, -489000, -483500, -487000, -485000, -488500, -484000,
  -486500, -490000, -485000, -483000, -487500, -489500, -484500, -486500, -482000, -488000,
  -485500, -489000, -483500, -487000, -490500, -485000, -482500, -487500, -484500, -489000,
  -486000, -483000, -488500, -485500, -490000, -484000, -487000, -489500, -485000, -482500,
  -487500, -484500, -489000, -486000, -483500, -488000, -490500, -485500, -487000, -484000,
  -488500, -485500, -489500, -483500, -487000, -485000, -490000, -486500, -482000, -487500,
  -484500, -489000, -486000, -483000, -488000, -490500, -485500, -487500, -484000, -489000,
  -486000, -482500, -487500, -485000, -489500, -483500, -488000, -486000, -490000, -484500,
  -487500, -481500, -486000, -489000, -484000, -487500, -485000, -490500, -486500, -483500,
  -488000, -485500, -490000, -484500, -487000, -489500, -483000, -486500, -488500, -485000];
const ctdEnergySQV = [
  -486000, -489500, -484500, -488000, -490500, -485500, -489000, -487000, -483500, -488500,
  -490000, -486500, -489000, -484000, -488000, -491000, -486000, -489500, -485000, -488000,
  -490500, -486500, -484500, -489000, -487000, -492500, -486000, -488500, -483500, -487500,
  -489500, -485000, -488000, -490500, -486500, -484000, -489000, -487000, -491000, -485500,
  -488500, -486000, -490000, -484500, -488000, -486500, -490500, -485000, -489000, -487000,
  -484500, -488500, -491000, -486000, -489000, -485500, -488000, -490000, -486500, -489500,
  -485000, -488000, -490500, -487000, -484500, -489000, -486500, -490500, -488000, -485500,
  -489000, -487000, -491000, -486000, -488500, -485000, -489500, -487500, -490000, -486500,
  -488000, -485500, -489500, -487000, -491000, -486000, -488500, -484500, -489000, -487500,
  -490500, -486000, -488500, -485000, -489500, -487500, -490000, -486500, -488000, -489500];
const ctdEnergyTPV = [
  -486500, -488500, -484500, -487500, -485500, -489000, -486000, -483500, -488000, -485000,
  -489500, -486500, -484000, -488000, -490000, -485500, -487500, -484500, -489000, -486000,
  -488000, -484000, -487000, -489500, -485000, -483500, -488000, -486500, -490500, -485500,
  -487500, -484500, -482500, -486500, -483000, -488000, -485000, -482000, -487000, -484500,
  -483500, -488500, -485500, -482500, -487500, -484500, -489000, -486000, -488500, -485000,
  -489500, -486000, -488500, -484500, -490000, -487000, -485000, -489500, -486500, -488000,
  -485500, -489000, -487000, -490500, -486500, -488500, -485000, -489500, -487500, -491000,
  -488000, -490500, -486500, -489000, -491500, -487500, -489500, -486000, -490500, -488000,
  -485500, -489500, -487000, -484500, -488500, -486000, -490000, -487000, -485000, -489000,
  -486500, -490500, -487500, -485000, -489000, -486500, -490000, -488000, -484500, -488500,
  -486000, -489500, -485500, -488000, -484500, -487500, -490000, -486500, -483500, -488000,
  -485000, -489000, -486500, -484000, -488500, -486000, -490500, -487000, -485000, -489000,
  -487000, -490500, -486000, -488500, -485500, -489500, -487500, -484500, -488000, -486000,
  -490000, -487500, -485500, -489000, -486500, -491000, -488000, -485000, -489500, -487000,
  -484500, -488500, -486000, -489500, -485500, -487500, -484000, -488500, -486500, -483500,
  -487500, -485000, -488500, -484500, -487000, -490000, -486000, -488500, -485500, -489000,
  -486500, -484000, -488000, -485500, -489500, -487000, -484500, -488500, -486000, -490500,
  -487500, -485000, -489000, -486500, -484500, -488000, -490000, -486500, -488500, -485500,
  -489500, -487000, -484500, -488500, -486000, -490000, -487500, -485000, -489000, -486500,
  -488000, -485500, -489500, -487000, -490500, -486000, -488500, -485500, -489500, -487500];

// ---------- per-panel lookup tables ----------
const ntdRmsd = { APV: ntdRmsdAPV, ATV: ntdRmsdATV, DRV: ntdRmsdDRV, IDV: ntdRmsdIDV, LPV: ntdRmsdLPV, NFV: ntdRmsdNFV, RTV: ntdRmsdRTV, SQV: ntdRmsdSQV, TPV: ntdRmsdTPV };
const ctdRmsd = { APV: ctdRmsdAPV, ATV: ctdRmsdATV, DRV: ctdRmsdDRV, IDV: ctdRmsdIDV, LPV: ctdRmsdLPV, NFV: ctdRmsdNFV, RTV: ctdRmsdRTV, SQV: ctdRmsdSQV, TPV: ctdRmsdTPV };
const ntdEnergy = { APV: ntdEnergyAPV, ATV: ntdEnergyATV, DRV: ntdEnergyDRV, IDV: ntdEnergyIDV, LPV: ntdEnergyLPV, NFV: ntdEnergyNFV, RTV: ntdEnergyRTV, SQV: ntdEnergySQV, TPV: ntdEnergyTPV };
const ctdEnergy = { APV: ctdEnergyAPV, ATV: ctdEnergyATV, DRV: ctdEnergyDRV, IDV: ctdEnergyIDV, LPV: ctdEnergyLPV, NFV: ctdEnergyNFV, RTV: ctdEnergyRTV, SQV: ctdEnergySQV, TPV: ctdEnergyTPV };

// ---------- styling ----------
const lineColors = {
  APV: '#000000', ATV: '#ff0000', DRV: '#22e01e', IDV: '#0a0ad2', LPV: '#2ee8e8',
  NFV: '#f01ef0', RTV: '#f5f500', SQV: '#808010', TPV: '#000078'
};
const SANS = '"Liberation Sans", Arial, sans-serif';
const SERIF = '"Liberation Serif", "Times New Roman", serif';

function plainNumber(v) { return String(v); }

function xAxisFor(grid, min, max, interval, lastLabel, fontSize) {
  return {
    type: 'value', gridIndex: grid, min: min, max: max, interval: interval,
    axisLine: { show: true, onZero: false, lineStyle: { color: '#000', width: 2 } },
    axisTick: { show: true, length: 6, lineStyle: { color: '#000', width: 1.5 } },
    minorTick: { show: true, splitNumber: 2, length: 3.5, lineStyle: { color: '#000', width: 1.2 } },
    splitLine: { show: false },
    axisLabel: {
      color: '#000', fontFamily: SANS, fontWeight: 'bold', fontSize: fontSize, margin: 9,
      showMaxLabel: true,
      formatter: v => (v > lastLabel ? '' : plainNumber(v))
    },
    name: 'Time (ps)', nameLocation: 'middle',
    nameTextStyle: { color: '#000', fontFamily: SANS, fontWeight: 'bold', fontSize: 20 }
  };
}

// RMSD value axis: integer labels, half-unit minor ticks
function rmsdYAxis(grid) {
  return {
    type: 'value', gridIndex: grid, min: 0, max: 7, interval: 1,
    axisLine: { show: true, onZero: false, lineStyle: { color: '#000', width: 2 } },
    axisTick: { show: true, length: 6, lineStyle: { color: '#000', width: 1.5 } },
    minorTick: { show: true, splitNumber: 2, length: 3.5, lineStyle: { color: '#000', width: 1.2 } },
    splitLine: { show: false },
    axisLabel: { color: '#000', fontFamily: SANS, fontWeight: 'bold', fontSize: 16, margin: 8, formatter: plainNumber }
  };
}

// energy value axis: labelled major ticks every 2000
function energyYAxis(grid, min, max, ticks) {
  return {
    type: 'value', gridIndex: grid, min: min, max: max, interval: 1000, position: 'left',
    axisLine: { show: true, onZero: false, lineStyle: { color: '#000', width: 2 } },
    axisTick: { show: true, length: 6, customValues: ticks, lineStyle: { color: '#000', width: 1.5 } },
    minorTick: { show: false },
    splitLine: { show: false },
    axisLabel: {
      color: '#000', fontFamily: SANS, fontWeight: 'bold', fontSize: 15, margin: 8,
      customValues: ticks,
      formatter: v => (Math.round(v) % 2000 === 0 ? plainNumber(v) : '')
    }
  };
}

// companion axis on the same grid carrying only the short in-between ticks
function energyMinorAxis(grid, min, max, minorTicks) {
  return {
    type: 'value', gridIndex: grid, min: min, max: max, interval: 1000, position: 'left', offset: 0,
    axisLine: { show: false },
    axisTick: { show: true, length: 3.5, customValues: minorTicks, lineStyle: { color: '#000', width: 1.2 } },
    axisLabel: { show: false },
    splitLine: { show: false }
  };
}

const xAxes = [
  Object.assign(xAxisFor(0, 0, 5500, 1000, 5000, 16), { nameGap: 46 }),
  Object.assign(xAxisFor(1, 0, 5500, 1000, 5000, 16), { nameGap: 45 }),
  Object.assign(xAxisFor(2, 500, 5500, 500, 5500, 15), { nameGap: 44 }),
  Object.assign(xAxisFor(3, 500, 5600, 500, 5500, 15), { nameGap: 43 })
];
const yAxes = [
  rmsdYAxis(0),
  rmsdYAxis(1),
  energyYAxis(2, -541000, -526000, ntdEnergyTicks),
  energyYAxis(3, -495000, -472000, ctdEnergyTicks),
  energyMinorAxis(2, -541000, -526000, ntdEnergyMinorTicks),
  energyMinorAxis(3, -495000, -472000, ctdEnergyMinorTicks)
];

// each value array is paired with the time grid it was sampled on;
// the densely sampled traces are stroked a little heavier
function buildSeries(table, timeSets, panel, widths) {
  return drugs.map(name => {
    const values = table[name];
    const k = Math.max(0, timeSets.findIndex(t => t.length === values.length));
    const times = timeSets[k];
    return {
      name: name,
      type: 'line',
      xAxisIndex: panel,
      yAxisIndex: panel,
      data: values.map((v, i) => [times[i], v]),
      showSymbol: false,
      symbol: 'none',
      sampling: 'none',
      silent: true,
      animation: false,
      lineStyle: { color: lineColors[name], width: widths[k], join: 'round' },
      itemStyle: { color: lineColors[name] },
      emphasis: { disabled: true }
    };
  });
}

const series = [].concat(
  buildSeries(ntdRmsd, [rmsdTime], 0, [2.5]),
  buildSeries(ctdRmsd, [rmsdTime], 1, [2.5]),
  buildSeries(ntdEnergy, [energyTime, energyTimeFine], 2, [1.5, 2.3]),
  buildSeries(ctdEnergy, [energyTime, energyTimeFine], 3, [1.5, 2.3])
);

function label(text, x, y, font, rotation) {
  return {
    type: 'text', x: x, y: y, rotation: rotation || 0, silent: true,
    style: {
      text: text, font: font, fill: '#000',
      align: 'center', verticalAlign: 'middle',
      textAlign: 'center', textVerticalAlign: 'middle'
    }
  };
}

const titleFont = 'bold 36px ' + SERIF;
const yNameFont = 'bold 21px ' + SANS;

const option = {
  backgroundColor: '#ffffff',
  animation: false,
  textStyle: { fontFamily: SANS },
  grid: [
    { left: 82, top: 30, width: 507, height: 411 },
    { left: 738, top: 33, width: 504, height: 409 },
    { left: 117, top: 680, width: 480, height: 392 },
    { left: 731, top: 678, width: 477, height: 392 }
  ],
  xAxis: xAxes,
  yAxis: yAxes,
  legend: [
    {
      data: drugs, orient: 'vertical', left: 1205, top: 46,
      padding: [34, 60, 37, 11], itemWidth: 50, itemHeight: 3, itemGap: 11,
      icon: 'rect', selectedMode: false,
      borderColor: '#808080', borderWidth: 1,
      textStyle: { color: '#000', fontFamily: SANS, fontWeight: 'bold', fontSize: 17, lineHeight: 16 }
    },
    {
      data: drugs, orient: 'vertical', left: 1212, top: 760,
      padding: [20, 60, 28, 10], itemWidth: 44, itemHeight: 2, itemGap: 9.5,
      icon: 'rect', selectedMode: false,
      borderColor: '#808080', borderWidth: 1,
      textStyle: { color: '#000', fontFamily: SANS, fontWeight: 'bold', fontSize: 15, lineHeight: 14 }
    }
  ],
  graphic: [
    label('NTD', 276, 31, titleFont),
    label('CTD', 927, 31, titleFont),
    label('NTD', 298, 662, titleFont),
    label('CTD', 990, 662, titleFont),
    label('RMSD (Å)', 38, 237, yNameFont, Math.PI / 2),
    label('RMSD (Å)', 695, 240, yNameFont, Math.PI / 2),
    label('Potential energy (Kcal/mol)', 21, 893, yNameFont, Math.PI / 2),
    label('Potential energy (Kcal/mol)', 636, 890, yNameFont, Math.PI / 2)
  ],
  series: series
};

const chart = echarts.init(document.getElementById('chart'), null, { renderer: 'canvas' });
chart.setOption(option);
</script>
</body>
</html>
